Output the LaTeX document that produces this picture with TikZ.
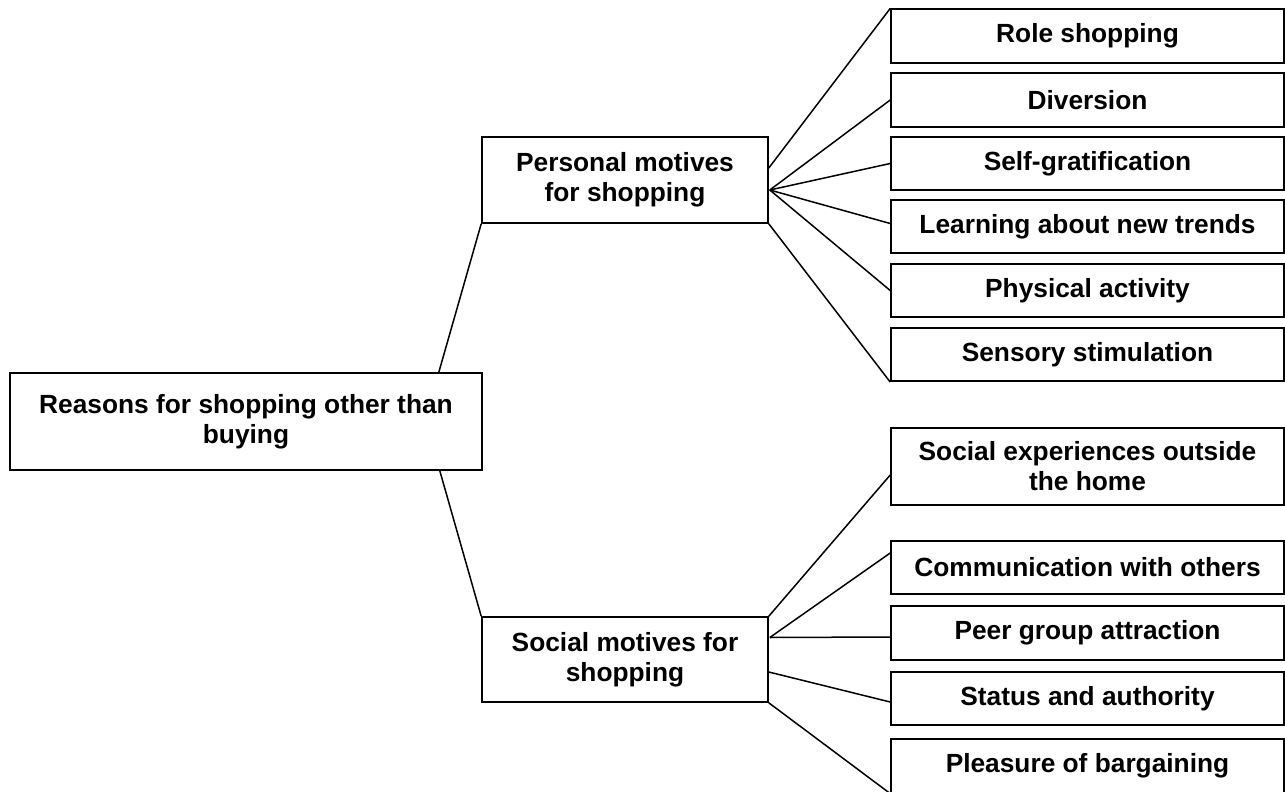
\documentclass[tikz,border=0pt]{standalone}
\usepackage{fontspec}
\setmainfont{Liberation Sans}
\usetikzlibrary{calc}
\begin{document}
\begin{tikzpicture}[x=1pt,y=-1pt,
  box/.style={draw=black, line width=1.6pt, fill=white, rectangle, inner sep=0pt,
    align=center, font=\fontsize{26.3}{30}\selectfont\bfseries},
  leaf/.style={box, minimum width=393pt, minimum height=53.5pt},
  link/.style={draw=black, line width=1.5pt}]
\useasboundingbox (0,0) rectangle (1285,792);

% root and the two groups
\node[box, minimum width=472pt, minimum height=97pt] (root) at (246,421.5)
  {Reasons for shopping other than\\buying};
\node[box, minimum width=286pt, minimum height=86pt] (pers) at (625,180)
  {Personal motives\\for shopping};
\node[box, minimum width=286pt, minimum height=85pt] (soc) at (625,659.5)
  {Social motives for\\shopping};

% personal motives
\node[leaf] (role)  at (1087.5,36)    {Role shopping};
\node[leaf] (div)   at (1087.5,100)   {Diversion};
\node[leaf] (self)  at (1087.5,163.5) {Self-gratification};
\node[leaf] (learn) at (1087.5,226.5) {Learning about new trends};
\node[leaf] (phys)  at (1087.5,290.5) {Physical activity};
\node[leaf] (sens)  at (1087.5,354.5) {Sensory stimulation};

% social motives
\node[leaf, minimum height=77pt] (sx) at (1087.5,466.5)
  {Social experiences outside\\the home};
\node[leaf] (comm) at (1087.5,567.5) {Communication with others};
\node[leaf] (peer) at (1087.5,633)   {Peer group attraction};
\node[leaf] (stat) at (1087.5,698.5) {Status and authority};
\node[leaf] (plea) at (1087.5,766)   {Pleasure of bargaining};

% root to groups
\draw[link] ($(root.north east)+(-44,0)$) -- (pers.south west);
\draw[link] ($(root.south east)+(-43,0)$) -- (soc.north west);

% personal fan
\coordinate (pf) at ($(pers.east)+(1,10)$);
\draw[link] ($(pers.east)+(0,-12)$) -- (role.north west);
\draw[link] (pf) -- (div.west);
\draw[link] (pf) -- (self.west);
\draw[link] (pf) -- ($(learn.west)+(0,-3)$);
\draw[link] (pf) -- (phys.west);
\draw[link] (pers.south east) -- (sens.south west);

% social fan
\coordinate (sf) at ($(soc.east)+(1,-22)$);
\draw[link] (soc.north east) -- ($(sx.west)+(0,8.5)$);
\draw[link] (sf) -- ($(comm.west)+(0,-14.5)$);
\draw[link] (sf) -- ($(peer.west)+(0,4)$);
\draw[link] ($(soc.east)+(0,12.5)$) -- ($(stat.west)+(0,3.5)$);
\draw[link] (soc.south east) -- (plea.south west);
\end{tikzpicture}
\end{document}
